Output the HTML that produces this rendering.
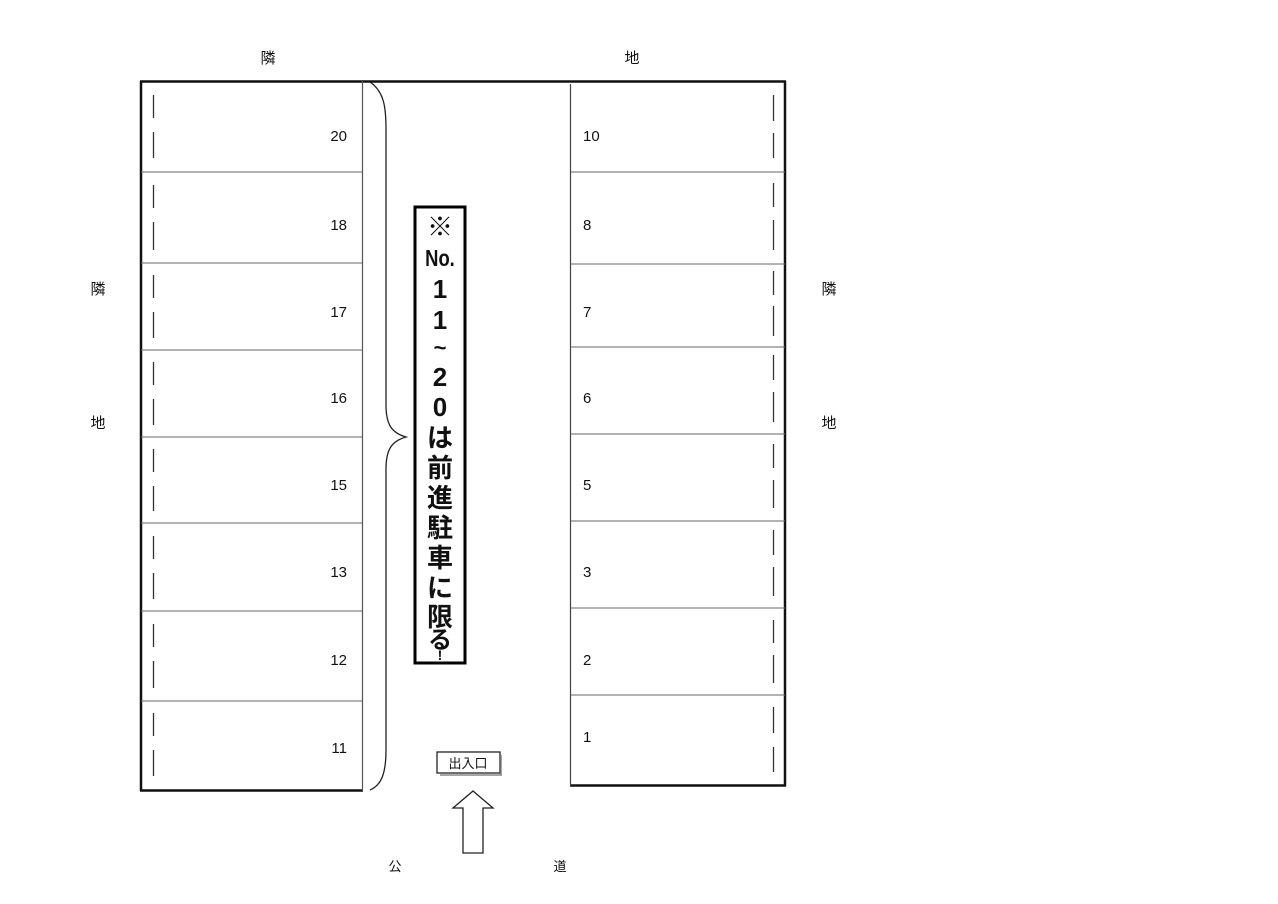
<!DOCTYPE html>
<html><head><meta charset="utf-8"><style>
html,body{margin:0;padding:0;background:#fff;}
svg{display:block;}
text{font-family:"Liberation Sans","Noto Sans CJK JP",sans-serif;fill:#111;}
</style></head><body>
<svg width="1278" height="904" viewBox="0 0 1278 904" xmlns="http://www.w3.org/2000/svg">
<g font-size="15" text-anchor="middle">
<text x="268" y="63">隣</text>
<text x="632" y="63">地</text>
<text x="98" y="294">隣</text>
<text x="98" y="428">地</text>
<text x="829" y="294">隣</text>
<text x="829" y="428">地</text>
<text x="395" y="871" font-size="13">公</text>
<text x="560" y="871" font-size="13">道</text>
</g>
<line x1="140" y1="81.5" x2="786" y2="81.5" stroke="#111" stroke-width="2.5"/>
<g stroke="#111" fill="none">
<line x1="141" y1="81" x2="141" y2="791" stroke-width="2.5"/>
<line x1="140" y1="790.5" x2="363" y2="790.5" stroke-width="2.5"/>
<line x1="362.5" y1="81" x2="362.5" y2="791" stroke-width="1.2" stroke="#555"/>
<g stroke-width="1" stroke="#666">
<line x1="141" y1="172" x2="362" y2="172"/>
<line x1="141" y1="263" x2="362" y2="263"/>
<line x1="141" y1="350" x2="362" y2="350"/>
<line x1="141" y1="437" x2="362" y2="437"/>
<line x1="141" y1="523" x2="362" y2="523"/>
<line x1="141" y1="611" x2="362" y2="611"/>
<line x1="141" y1="701" x2="362" y2="701"/>
</g>
<g stroke-width="1.3" stroke="#333">
<line x1="153.5" y1="95" x2="153.5" y2="118"/><line x1="153.5" y1="132" x2="153.5" y2="158"/>
<line x1="153.5" y1="185" x2="153.5" y2="208"/><line x1="153.5" y1="222" x2="153.5" y2="250"/>
<line x1="153.5" y1="275" x2="153.5" y2="298"/><line x1="153.5" y1="312" x2="153.5" y2="338"/>
<line x1="153.5" y1="362" x2="153.5" y2="385"/><line x1="153.5" y1="399" x2="153.5" y2="425"/>
<line x1="153.5" y1="449" x2="153.5" y2="472"/><line x1="153.5" y1="486" x2="153.5" y2="511"/>
<line x1="153.5" y1="536" x2="153.5" y2="559"/><line x1="153.5" y1="573" x2="153.5" y2="599"/>
<line x1="153.5" y1="624" x2="153.5" y2="647"/><line x1="153.5" y1="661" x2="153.5" y2="688"/>
<line x1="153.5" y1="713" x2="153.5" y2="736"/><line x1="153.5" y1="750" x2="153.5" y2="776"/>
</g>
</g>
<g font-size="15" text-anchor="end">
<text x="347" y="141">20</text>
<text x="347" y="230">18</text>
<text x="347" y="317">17</text>
<text x="347" y="403">16</text>
<text x="347" y="490">15</text>
<text x="347" y="577">13</text>
<text x="347" y="665">12</text>
<text x="347" y="753">11</text>
</g>
<g stroke="#111" fill="none">
<line x1="785" y1="81" x2="785" y2="786" stroke-width="2.5"/>
<line x1="570" y1="785.5" x2="786" y2="785.5" stroke-width="2.5"/>
<line x1="570.5" y1="84" x2="570.5" y2="786" stroke-width="1.2" stroke="#444"/>
<g stroke-width="1" stroke="#666">
<line x1="571" y1="172" x2="785" y2="172"/>
<line x1="571" y1="264" x2="785" y2="264"/>
<line x1="571" y1="347" x2="785" y2="347"/>
<line x1="571" y1="434" x2="785" y2="434"/>
<line x1="571" y1="521" x2="785" y2="521"/>
<line x1="571" y1="608" x2="785" y2="608"/>
<line x1="571" y1="695" x2="785" y2="695"/>
</g>
<g stroke-width="1.3" stroke="#333">
<line x1="773.5" y1="95" x2="773.5" y2="121"/><line x1="773.5" y1="133" x2="773.5" y2="158"/>
<line x1="773.5" y1="183" x2="773.5" y2="207"/><line x1="773.5" y1="220" x2="773.5" y2="250"/>
<line x1="773.5" y1="271" x2="773.5" y2="295"/><line x1="773.5" y1="306" x2="773.5" y2="336"/>
<line x1="773.5" y1="355" x2="773.5" y2="380"/><line x1="773.5" y1="392" x2="773.5" y2="422"/>
<line x1="773.5" y1="444" x2="773.5" y2="468"/><line x1="773.5" y1="480" x2="773.5" y2="508"/>
<line x1="773.5" y1="530" x2="773.5" y2="555"/><line x1="773.5" y1="567" x2="773.5" y2="596"/>
<line x1="773.5" y1="620" x2="773.5" y2="643"/><line x1="773.5" y1="655" x2="773.5" y2="683"/>
<line x1="773.5" y1="707" x2="773.5" y2="733"/><line x1="773.5" y1="747" x2="773.5" y2="772"/>
</g>
</g>
<g font-size="15">
<text x="583" y="141">10</text>
<text x="583" y="230">8</text>
<text x="583" y="317">7</text>
<text x="583" y="403">6</text>
<text x="583" y="490">5</text>
<text x="583" y="577">3</text>
<text x="583" y="665">2</text>
<text x="583" y="742">1</text>
</g>
<path d="M370 82 C 385 92, 386 110, 386 130 L 386 405 C 386 425, 392 433, 406 437 C 392 441, 386 449, 386 469 L 386 750 C 386 772, 382 785, 370 790" stroke="#222" stroke-width="1.3" fill="none"/>
<rect x="415" y="207" width="50" height="456" fill="#fff" stroke="#000" stroke-width="3"/>
<g font-size="26" text-anchor="middle" font-weight="bold">
<text x="440" y="236">※</text>
<text x="440" y="266" font-size="23" transform="translate(440 0) scale(0.8 1) translate(-440 0)">No.</text>
<text x="440" y="298" font-size="26">1</text>
<text x="440" y="329" font-size="26">1</text>
<text x="440" y="355" font-size="22">~</text>
<text x="440" y="386" font-size="26">2</text>
<text x="440" y="416" font-size="26">0</text>
<text x="440" y="447" font-size="26">は</text>
<text x="440" y="477" font-size="26">前</text>
<text x="440" y="507" font-size="26">進</text>
<text x="440" y="537" font-size="26">駐</text>
<text x="440" y="567" font-size="26">車</text>
<text x="440" y="597" font-size="26">に</text>
<text x="440" y="626" font-size="26">限</text>
<text x="440" y="648" font-size="24">る</text>
<text x="440" y="660" font-size="14">!</text>
</g>
<rect x="437" y="752" width="63" height="21" fill="#fff" stroke="#222" stroke-width="1.3"/>
<line x1="440" y1="775" x2="502" y2="775" stroke="#888" stroke-width="1.5"/>
<line x1="501" y1="755" x2="501" y2="775" stroke="#888" stroke-width="1.5"/>
<text x="468" y="768" font-size="13" text-anchor="middle">出入口</text>
<path d="M473 791 L 493 808 L 483 808 L 483 853 L 463 853 L 463 808 L 453 808 Z" fill="#fff" stroke="#222" stroke-width="1.3"/>
</svg>
</body></html>
